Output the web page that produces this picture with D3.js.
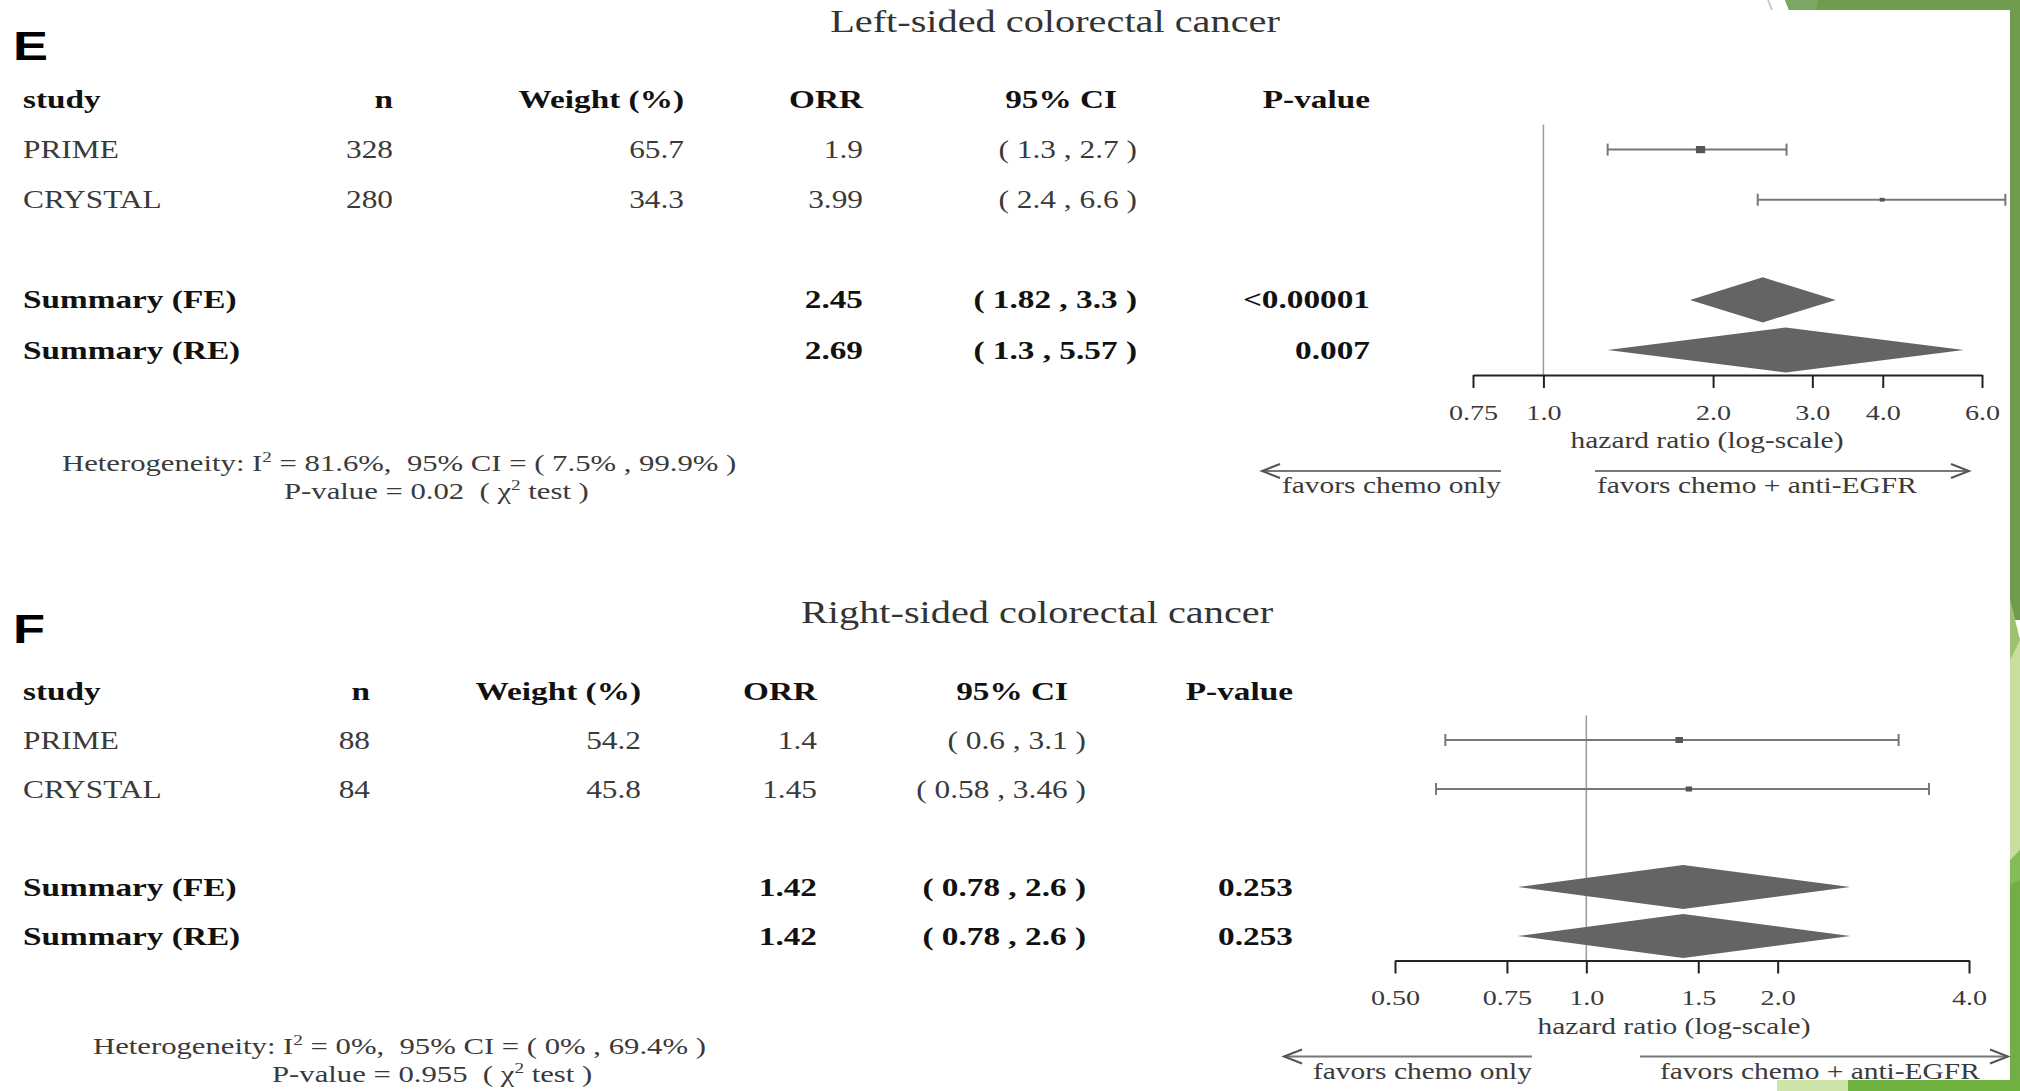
<!DOCTYPE html>
<html>
<head>
<meta charset="utf-8">
<script src="https://cdn.jsdelivr.net/npm/d3@7"></script>
<style>
  body { margin: 0; background: #fff; }
  svg { display: block; }
  text { white-space: pre; }
</style>
</head>
<body>
<div id="chart"></div>
<script>
// data
const studies = ["PRIME", "CRYSTAL"];
const summaryLabels = ["Summary (FE)", "Summary (RE)"];
const headers = ["study", "n", "Weight (%)", "ORR", "95% CI", "P-value"];

const leftN = [328, 280];
const leftWeight = [65.7, 34.3];
const leftOrr = [1.9, 3.99];
const leftLo = [1.3, 2.4];
const leftHi = [2.7, 6.6];
const leftSumOrr = [2.45, 2.69];
const leftSumLo = [1.82, 1.3];
const leftSumHi = [3.3, 5.57];
const leftSumP = ["<0.00001", "0.007"];
const leftTicks = [0.75, 1.0, 2.0, 3.0, 4.0, 6.0];
const leftTickLabels = ["0.75", "1.0", "2.0", "3.0", "4.0", "6.0"];
const leftHet = { i2: "81.6%", ci: ["7.5%", "99.9%"], p: "0.02" };

const rightN = [88, 84];
const rightWeight = [54.2, 45.8];
const rightOrr = [1.4, 1.45];
const rightLo = [0.6, 0.58];
const rightHi = [3.1, 3.46];
const rightSumOrr = [1.42, 1.42];
const rightSumLo = [0.78, 0.78];
const rightSumHi = [2.6, 2.6];
const rightSumP = ["0.253", "0.253"];
const rightTicks = [0.5, 0.75, 1.0, 1.5, 2.0, 4.0];
const rightTickLabels = ["0.50", "0.75", "1.0", "1.5", "2.0", "4.0"];
const rightHet = { i2: "0%", ci: ["0%", "69.4%"], p: "0.955" };

const width = 2020, height = 1091;
const SX = 1.28; // the picture is stretched sideways
const serif = "'Liberation Serif', 'Times New Roman', serif";

const panels = [
  {
    letter: "E", title: "Left-sided colorectal cancer",
    n: leftN, weight: leftWeight, orr: leftOrr, lo: leftLo, hi: leftHi,
    sumOrr: leftSumOrr, sumLo: leftSumLo, sumHi: leftSumHi, sumP: leftSumP,
    ticks: leftTicks, tickLabels: leftTickLabels, het: leftHet,
    lay: {
      letterY: 60, titleX: 1055, titleY: 32, top: 99.5, step: 50.1,
      cols: { n: 393, weight: 684, orr: 863, ciHead: 1117, ci: 1137, p: 1370 },
      range: [1473, 1982],
      leftArrow: [1501, 1262], rightArrow: [1595, 1969], rightTextX: 1597,
      hazX: 1707, het: [[62, 471], [284, 499]]
    }
  },
  {
    letter: "F", title: "Right-sided colorectal cancer",
    n: rightN, weight: rightWeight, orr: rightOrr, lo: rightLo, hi: rightHi,
    sumOrr: rightSumOrr, sumLo: rightSumLo, sumHi: rightSumHi, sumP: rightSumP,
    ticks: rightTicks, tickLabels: rightTickLabels, het: rightHet,
    lay: {
      letterY: 643, titleX: 1037, titleY: 623, top: 691, step: 49,
      cols: { n: 370, weight: 641, orr: 817, ciHead: 1068, ci: 1086, p: 1293 },
      range: [1395, 1969],
      leftArrow: [1532, 1284], rightArrow: [1640, 2008], rightTextX: 1660,
      hazX: 1674, het: [[93, 1054], [272, 1082]]
    }
  }
];

let svg = d3.select("#chart")
  .append("svg")
  .attr("width", width)
  .attr("height", height);

svg.append("rect").attr("width", width).attr("height", height).attr("fill", "#fff");

// slide decoration (green theme edges)
let deco = svg.append("g");
deco.append("polygon").attr("points", "1785,0 2020,0 2020,10 1789,10").attr("fill", "#6f9d50");
deco.append("polygon").attr("points", "1785,0 1818,0 1816,10 1789,10").attr("fill", "#7aa862");
deco.append("line").attr("x1", 1768).attr("y1", 0).attr("x2", 1772).attr("y2", 10)
  .attr("stroke", "#bbb").attr("stroke-width", 1.5);
deco.append("rect").attr("x", 2010).attr("y", 0).attr("width", 10).attr("height", 620).attr("fill", "#6e9b4e");
deco.append("polygon").attr("points", "2010,600 2020,640 2020,860 2010,870").attr("fill", "#c9dd9e");
deco.append("polygon").attr("points", "2010,600 2020,640 2010,660").attr("fill", "#9cc070");
deco.append("rect").attr("x", 2010).attr("y", 870).attr("width", 10).attr("height", 221).attr("fill", "#72ad45");
deco.append("polygon").attr("points", "2010,860 2020,850 2020,880 2010,885").attr("fill", "#86bb5a");
deco.append("rect").attr("x", 1777).attr("y", 1080).attr("width", 71).attr("height", 11).attr("fill", "#cfe4a8");
deco.append("rect").attr("x", 1848).attr("y", 1080).attr("width", 172).attr("height", 11).attr("fill", "#6fb13f");

function txt(g, x, y, s, o) {
  o = o || {};
  return g.append("text")
    .attr("transform", "translate(" + x + "," + y + ") scale(" + SX + ",1)")
    .attr("text-anchor", o.anchor || "start")
    .attr("font-family", o.family || serif)
    .attr("font-size", o.size || 24.5)
    .attr("font-weight", o.bold ? "bold" : "normal")
    .attr("fill", o.fill || (o.bold ? "#111" : "#3a3a3a"))
    .text(s);
}

function ciText(lo, hi) {
  return "( " + lo + " , " + hi + " )";
}

panels.forEach(p => {
  let L = p.lay;
  let g = svg.append("g");
  let rowY = i => L.top + i * L.step;
  let base = i => rowY(i) + 8.5;

  txt(g, 13, L.letterY, p.letter, { family: "'Liberation Sans', Arial, sans-serif", size: 41, bold: true, fill: "#000" });
  txt(g, L.titleX, L.titleY, p.title, { anchor: "middle", size: 31.5, fill: "#333" });

  // header row
  let hb = { bold: true, size: 26 };
  txt(g, 23, base(0), headers[0], hb);
  txt(g, L.cols.n, base(0), headers[1], Object.assign({ anchor: "end" }, hb));
  txt(g, L.cols.weight, base(0), headers[2], Object.assign({ anchor: "end" }, hb));
  txt(g, L.cols.orr, base(0), headers[3], Object.assign({ anchor: "end" }, hb));
  txt(g, L.cols.ciHead, base(0), headers[4], Object.assign({ anchor: "end" }, hb));
  txt(g, L.cols.p, base(0), headers[5], Object.assign({ anchor: "end" }, hb));

  // study rows
  studies.forEach((s, i) => {
    let y = base(i + 1);
    txt(g, 23, y, s);
    txt(g, L.cols.n, y, String(p.n[i]), { anchor: "end" });
    txt(g, L.cols.weight, y, p.weight[i].toFixed(1), { anchor: "end" });
    txt(g, L.cols.orr, y, String(p.orr[i]), { anchor: "end" });
    txt(g, L.cols.ci, y, ciText(p.lo[i], p.hi[i]), { anchor: "end" });
  });

  // summary rows
  summaryLabels.forEach((s, i) => {
    let y = base(i + 4);
    let o = { bold: true, size: 26 };
    txt(g, 23, y, s, o);
    txt(g, L.cols.orr, y, String(p.sumOrr[i]), Object.assign({ anchor: "end" }, o));
    txt(g, L.cols.ci, y, ciText(p.sumLo[i], p.sumHi[i]), Object.assign({ anchor: "end" }, o));
    txt(g, L.cols.p, y, p.sumP[i], Object.assign({ anchor: "end" }, o));
  });

  // forest plot
  let x = d3.scaleLog()
    .domain([p.ticks[0], p.ticks[p.ticks.length - 1]])
    .range(L.range);
  let axisY = rowY(5.5);
  let boxSize = d3.scaleLinear().domain([0, 100]).range([0, 11]);

  g.append("line")
    .attr("x1", x(1)).attr("x2", x(1))
    .attr("y1", rowY(0.5)).attr("y2", axisY)
    .attr("stroke", "#9a9a9a").attr("stroke-width", 1.5);

  let rows = studies.map((s, i) => ({ orr: p.orr[i], lo: p.lo[i], hi: p.hi[i], w: p.weight[i], y: rowY(i + 1) }));
  let ci = g.selectAll(".ci").data(rows).enter().append("g").attr("class", "ci");
  ci.append("line")
    .attr("x1", d => x(d.lo)).attr("x2", d => x(d.hi))
    .attr("y1", d => d.y).attr("y2", d => d.y)
    .attr("stroke", "#777").attr("stroke-width", 2);
  ci.append("line")
    .attr("x1", d => x(d.lo)).attr("x2", d => x(d.lo))
    .attr("y1", d => d.y - 6).attr("y2", d => d.y + 6)
    .attr("stroke", "#777").attr("stroke-width", 2);
  ci.append("line")
    .attr("x1", d => x(d.hi)).attr("x2", d => x(d.hi))
    .attr("y1", d => d.y - 6).attr("y2", d => d.y + 6)
    .attr("stroke", "#777").attr("stroke-width", 2);
  ci.append("rect")
    .attr("x", d => x(d.orr) - boxSize(d.w) * SX / 2)
    .attr("y", d => d.y - boxSize(d.w) / 2)
    .attr("width", d => boxSize(d.w) * SX)
    .attr("height", d => boxSize(d.w))
    .attr("fill", "#555");

  let sums = summaryLabels.map((s, i) => ({ orr: p.sumOrr[i], lo: p.sumLo[i], hi: p.sumHi[i], y: rowY(i + 4) }));
  let hh = L.step * 0.45;
  g.selectAll(".diamond").data(sums).enter().append("path")
    .attr("class", "diamond")
    .attr("d", d => "M" + x(d.lo) + "," + d.y + "L" + x(d.orr) + "," + (d.y - hh) +
      "L" + x(d.hi) + "," + d.y + "L" + x(d.orr) + "," + (d.y + hh) + "Z")
    .attr("fill", "#646464");

  let axis = d3.axisBottom(x)
    .tickValues(p.ticks)
    .tickFormat((d, i) => p.tickLabels[i])
    .tickSize(13)
    .tickSizeOuter(0);
  let ax = g.append("g")
    .attr("transform", "translate(0," + axisY + ")")
    .call(axis);
  ax.select(".domain").attr("stroke", "#222").attr("stroke-width", 2);
  ax.selectAll(".tick line").attr("stroke", "#222").attr("stroke-width", 2);
  ax.selectAll(".tick text")
    .attr("y", 45).attr("dy", 0)
    .attr("transform", "scale(" + SX + ",1)")
    .attr("font-family", serif)
    .attr("font-size", 22)
    .attr("fill", "#3a3a3a");

  txt(g, L.hazX, axisY + 73, "hazard ratio (log-scale)", { anchor: "middle", size: 23 });

  // favour arrows
  let ay = axisY + 96;
  let arrow = (x1, x2) => {
    let dir = x2 > x1 ? -1 : 1;
    g.append("line").attr("x1", x1).attr("x2", x2).attr("y1", ay).attr("y2", ay)
      .attr("stroke", "#777").attr("stroke-width", 2);
    g.append("path")
      .attr("d", "M" + (x2 + dir * 18) + "," + (ay - 7) + "L" + x2 + "," + ay + "L" + (x2 + dir * 18) + "," + (ay + 7))
      .attr("fill", "none").attr("stroke", "#555").attr("stroke-width", 2);
  };
  arrow(L.leftArrow[0], L.leftArrow[1]);
  arrow(L.rightArrow[0], L.rightArrow[1]);
  txt(g, L.leftArrow[0], axisY + 118, "favors chemo only", { anchor: "end", size: 23 });
  txt(g, L.rightTextX, axisY + 118, "favors chemo + anti-EGFR", { size: 23 });

  // heterogeneity note
  let h1 = txt(g, L.het[0][0], L.het[0][1], "Heterogeneity: I", { size: 24 });
  h1.append("tspan").attr("dy", -9).attr("font-size", 15).text("2");
  h1.append("tspan").attr("dy", 9).text(" = " + p.het.i2 + ",  95% CI = ( " + p.het.ci[0] + " , " + p.het.ci[1] + " )");
  let h2 = txt(g, L.het[1][0], L.het[1][1], "P-value = " + p.het.p + "  ( \u03c7", { size: 24 });
  h2.append("tspan").attr("dy", -9).attr("font-size", 15).text("2");
  h2.append("tspan").attr("dy", 9).text(" test )");
});
</script>
</body>
</html>
